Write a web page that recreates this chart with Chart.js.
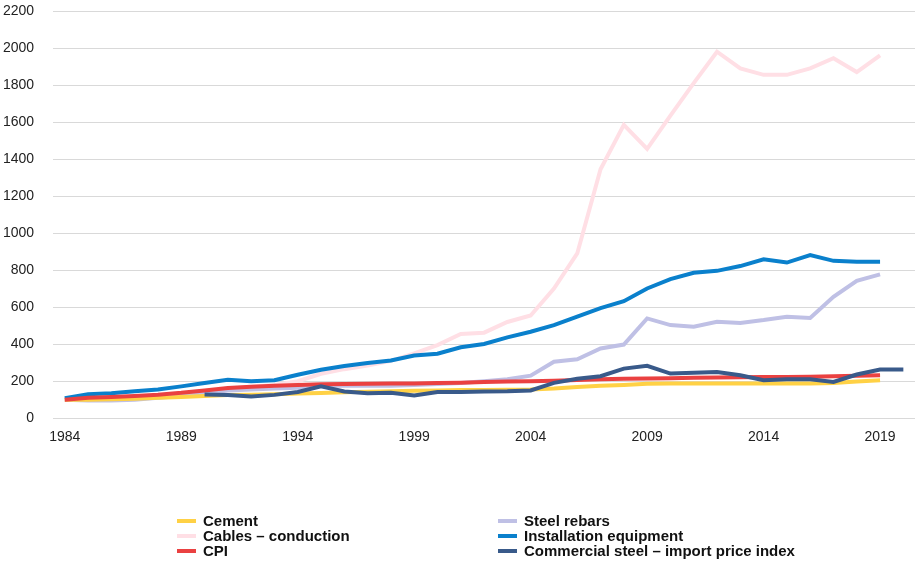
<!DOCTYPE html>
<html>
<head>
<meta charset="utf-8">
<script src="https://cdn.jsdelivr.net/npm/chart.js@4"></script>
<style>
  body { margin: 0; background: #fff; }
  #wrap { position: relative; width: 921px; height: 561px; }
  #legend { position: absolute; left: 0; top: 513px; width: 921px; font-family: "Liberation Sans", Arial, sans-serif; font-weight: bold; font-size: 15px; color: #111; }
  .item { position: absolute; height: 15px; line-height: 15px; white-space: nowrap; }
  .sw { display: inline-block; width: 19px; height: 4px; vertical-align: middle; margin-right: 7px; position: relative; top: -1px; }
</style>
</head>
<body>
<div id="wrap">
  <canvas id="priceChart" width="921" height="561"></canvas>
  <div id="legend"></div>
</div>
<script>
const years = [];
for (let y = 1984; y <= 2020; y++) years.push(String(y));

const cement = [100, 100, 102, 105, 110, 115, 120, 125, 127, 130, 133, 136, 140, 143, 146, 148, 150, 152, 153, 154, 155, 160, 168, 175, 180, 186, 187, 187, 187, 188, 188, 188, 188, 190, 198, 205, null];
const cables = [100, 98, 100, 110, 118, 130, 145, 160, 170, 180, 200, 240, 265, 285, 310, 350, 395, 455, 462, 520, 555, 700, 890, 1345, 1585, 1455, 1635, 1810, 1980, 1890, 1855, 1855, 1890, 1945, 1870, 1960, null];
const cpi = [100, 110, 115, 120, 127, 137, 150, 163, 170, 175, 180, 183, 185, 186, 187, 188, 190, 192, 195, 198, 200, 203, 206, 210, 213, 214, 216, 218, 220, 221, 222, 222, 224, 226, 229, 232, null];
const rebars = [100, 95, 95, 100, 110, 120, 135, 150, 155, 160, 165, 175, 175, 175, 175, 180, 185, 190, 200, 210, 230, 305, 318, 377, 398, 539, 503, 494, 521, 515, 530, 548, 542, 656, 742, 777, null];
const installation = [108, 130, 135, 145, 155, 172, 190, 208, 200, 205, 235, 262, 282, 298, 312, 339, 348, 383, 401, 437, 467, 503, 549, 595, 632, 701, 751, 786, 796, 822, 859, 841, 881, 850, 845, 845, null];
const commercialSteel = [null, null, null, null, null, null, 128, 125, 117, 126, 142, 172, 144, 135, 137, 123, 141, 141, 144, 145, 150, 191, 213, 227, 268, 283, 241, 245, 250, 232, 205, 211, 211, 196, 236, 263, 263];

const yTicks = { min: 0, max: 2200, step: 200 };

// legend order: column 1 then column 2
const series = [
    { label: "Cement", data: cement, color: "#ffd145", order: 4, col: 0, row: 0 },
    { label: "Cables \u2013 conduction", data: cables, color: "#ffdfe5", order: 6, col: 0, row: 1 },
    { label: "CPI", data: cpi, color: "#ea4141", order: 2, col: 0, row: 2 },
    { label: "Steel rebars", data: rebars, color: "#bfc0e5", order: 5, col: 1, row: 0 },
    { label: "Installation equipment", data: installation, color: "#0a80cc", order: 3, col: 1, row: 1 },
    { label: "Commercial steel \u2013 import price index", data: commercialSteel, color: "#395a8a", order: 1, col: 1, row: 2 }
];

const canvas = document.getElementById("priceChart");
const tickFont = { family: "Liberation Sans, Arial, sans-serif", size: 14 };

new Chart(canvas, {
    type: "line",
    data: {
        labels: years,
        datasets: series.map(s => ({
            label: s.label,
            data: s.data,
            borderColor: s.color,
            backgroundColor: s.color,
            borderWidth: 4,
            pointRadius: 0,
            tension: 0,
            fill: false,
            order: s.order
        }))
    },
    options: {
        responsive: false,
        animation: false,
        layout: { padding: { left: 3, right: 6, top: 11, bottom: 104 } },
        plugins: {
            legend: { display: false },
            tooltip: { enabled: false }
        },
        scales: {
            x: {
                offset: true,
                grid: { display: false, drawTicks: false },
                border: { display: false },
                ticks: {
                    autoSkip: false,
                    maxRotation: 0,
                    color: "#222",
                    font: tickFont,
                    padding: 11,
                    callback: function (value, index) {
                        return index % 5 === 0 ? years[index] : "";
                    }
                }
            },
            y: {
                min: yTicks.min,
                max: yTicks.max,
                border: { display: false },
                grid: { color: "#d9d9d9", lineWidth: 1, tickLength: 19, tickColor: "rgba(0,0,0,0)" },
                ticks: {
                    stepSize: yTicks.step,
                    color: "#222",
                    padding: 0,
                    font: tickFont,
                    callback: function (value) {
                        return String(value);
                    }
                }
            }
        }
    }
});

const legend = document.getElementById("legend");
const colX = [177, 498];
series.forEach(s => {
    const el = document.createElement("div");
    el.className = "item";
    el.style.left = colX[s.col] + "px";
    el.style.top = (s.row * 15) + "px";
    el.innerHTML = '<span class="sw" style="background:' + s.color + '"></span>' + s.label;
    legend.appendChild(el);
});
</script>
</body>
</html>
